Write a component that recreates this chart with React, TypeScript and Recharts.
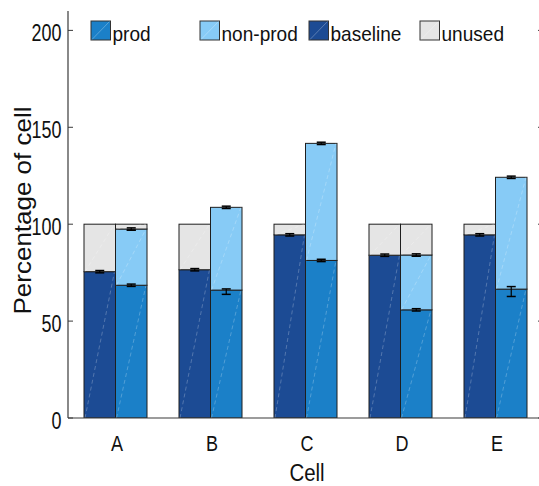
import React from 'react';
import { BarChart, Bar, XAxis, YAxis, Legend } from 'recharts';

const cells = ['A', 'B', 'C', 'D', 'E'];
const baseline = [75.5, 76.5, 94.5, 84, 94.5];
const unusedBase = [24.5, 23.5, 5.5, 16, 5.5];
const prod = [68.5, 66, 81.3, 55.8, 66.5];
const nonProd = [29, 42.7, 60.4, 28.3, 57.7];
const unusedProd = [2.5, 0, 0, 15.9, 0];
const baselineErr = [0.6, 0.6, 0.6, 0.6, 0.6];
const prodErrUp = [0.6, 0.6, 0.6, 0.6, 1.3];
const prodErrDown = [0.6, 2.2, 0.6, 0.6, 3.8];
const nonProdErr = [0.6, 0.6, 0.6, 0.6, 0.6];
const yTicks = [0, 50, 100, 150, 200];

const legendLabels = ['prod', 'non-prod', 'baseline', 'unused'];

const COLORS = {
  prod: '#1b80c8',
  nonProd: '#87cbf6',
  baseline: '#1c4b94',
  unused: '#e5e5e5',
};
const legendColors = [COLORS.prod, COLORS.nonProd, COLORS.baseline, COLORS.unused];

const FONT = '"Liberation Sans", Arial, Helvetica, sans-serif';
const AXIS = '#3a3a3a';

const data = cells.map((c, i) => ({
  cell: c,
  baseline: baseline[i],
  unusedBase: unusedBase[i],
  prod: prod[i],
  nonProd: nonProd[i],
  unusedProd: unusedProd[i],
  baselineErr: baselineErr[i],
  prodErrUp: prodErrUp[i],
  prodErrDown: prodErrDown[i],
  nonProdErr: nonProdErr[i],
}));

function cap(key: string, cx: number, yb: number, up: number, down: number) {
  const half = 4.5;
  const t = yb - Math.max(up, 1);
  const b = yb + Math.max(down, 1);
  return (
    <g key={key}>
      <line x1={cx} x2={cx} y1={t} y2={b} stroke="#000" strokeWidth={1.2} />
      <line x1={cx - half} x2={cx + half} y1={t} y2={t} stroke="#000" strokeWidth={1.5} />
      <line x1={cx - half} x2={cx + half} y1={b} y2={b} stroke="#000" strokeWidth={1.5} />
    </g>
  );
}

type ErrSpec = { up: string; down: string } | null;

function makeShape(fill: string, segKey: string, topErr: ErrSpec, bottomErr: ErrSpec) {
  return (p: any) => {
    const { x, y, width, height, payload } = p;
    if (!height || height <= 0 || !payload || !payload[segKey]) return <g />;
    const k = height / payload[segKey];
    const cx = x + width / 2;
    const caps: React.ReactNode[] = [];
    if (bottomErr) caps.push(cap('b', cx, y + height, payload[bottomErr.up] * k, payload[bottomErr.down] * k));
    if (topErr) caps.push(cap('t', cx, y, payload[topErr.up] * k, payload[topErr.down] * k));
    return (
      <g>
        <rect x={x} y={y} width={width} height={height} fill={fill} stroke="#1e1e1e" strokeWidth={1} />
        <line
          x1={x + 1}
          y1={y + height}
          x2={x + width - 1}
          y2={y}
          stroke="#ffffff"
          strokeOpacity={0.3}
          strokeWidth={0.8}
          strokeDasharray="4 3"
        />
        {caps}
      </g>
    );
  };
}

const YTick = (p: any) => (
  <g>
    <line x1={p.x} x2={p.x + 5} y1={p.y} y2={p.y} stroke={AXIS} strokeWidth={1} />
    <g transform={`translate(${p.x - 6.5},${p.y + 10.5}) scale(0.78,1)`}>
      <text textAnchor="end" fontSize={23} fill="#111" fontFamily={FONT}>
        {p.payload.value}
      </text>
    </g>
  </g>
);

const RightTick = (p: any) => (
  <line x1={p.x - 5} x2={p.x} y1={p.y} y2={p.y} stroke={AXIS} strokeWidth={1} />
);

const XTick = (p: any) => (
  <g transform={`translate(${p.x + 1.5},${p.y + 33}) scale(0.82,1)`}>
    <text textAnchor="middle" fontSize={22} fill="#111" fontFamily={FONT}>
      {p.payload.value}
    </text>
  </g>
);

const TopTick = (p: any) => (
  <line x1={p.x} x2={p.x} y1={p.y} y2={p.y + 5} stroke={AXIS} strokeWidth={1} />
);

const XLabel = (p: any) => {
  const vb = p.viewBox || { x: 68, y: 418, width: 475, height: 68 };
  return (
    <g transform={`translate(${vb.x + vb.width / 2 + 1.5},${vb.y + 62.5}) scale(0.87,1)`}>
      <text textAnchor="middle" fontSize={23.5} fill="#111" fontFamily={FONT}>
        Cell
      </text>
    </g>
  );
};

const YLabel = (p: any) => {
  const vb = p.viewBox || { x: 0, y: 11, width: 68, height: 407 };
  const cy = vb.y + vb.height / 2 - 4;
  const cx = vb.x + 31;
  return (
    <text
      x={cx}
      y={cy}
      transform={`rotate(-90,${cx},${cy})`}
      textAnchor="middle"
      fontSize={24}
      fill="#111"
      fontFamily={FONT}
      textLength={208}
      lengthAdjust="spacingAndGlyphs"
    >
      Percentage of cell
    </text>
  );
};

const legendSwatchX = [91, 200, 309, 420];

const LegendContent = () => (
  <svg width={548} height={50} style={{ display: 'block' }}>
    {legendLabels.map((lab, i) => (
      <g key={lab}>
        <rect x={legendSwatchX[i]} y={21} width={19.5} height={19} fill={legendColors[i]} stroke="#333" strokeWidth={1} />
        <line
          x1={legendSwatchX[i] + 1}
          y1={39.5}
          x2={legendSwatchX[i] + 18.5}
          y2={21.5}
          stroke="#fff"
          strokeOpacity={0.35}
          strokeWidth={0.8}
        />
        <g transform={`translate(${legendSwatchX[i] + 21.5},41) scale(0.93,1)`}>
          <text fontSize={20.5} fill="#111" fontFamily={FONT}>
            {lab}
          </text>
        </g>
      </g>
    ))}
  </svg>
);

export default function App() {
  return (
    <div style={{ position: 'absolute', left: 0, top: 0, width: 539, height: 486, background: '#fff', overflow: 'hidden' }}>
      <BarChart
        width={548}
        height={486}
        data={data}
        margin={{ top: 11, right: 0, bottom: 0, left: 0 }}
        barGap={0}
        barSize={31.5}
      >
        <XAxis
          dataKey="cell"
          height={68}
          tickSize={0}
          tickMargin={0}
          tickLine={false}
          axisLine={{ stroke: AXIS, strokeWidth: 1.2 }}
          tick={<XTick />}
          interval={0}
          label={<XLabel />}
        />
        <XAxis
          xAxisId="top"
          orientation="top"
          dataKey="cell"
          height={0}
          tickSize={0}
          tickMargin={0}
          tickLine={false}
          axisLine={{ stroke: AXIS, strokeWidth: 1.2 }}
          tick={<TopTick />}
          interval={0}
        />
        <YAxis
          type="number"
          domain={[0, 210]}
          ticks={yTicks}
          width={68}
          tickSize={0}
          tickMargin={0}
          tickLine={false}
          axisLine={{ stroke: AXIS, strokeWidth: 1.2 }}
          tick={<YTick />}
          interval={0}
          allowDataOverflow
          label={<YLabel />}
        />
        <YAxis
          yAxisId="right"
          orientation="right"
          type="number"
          domain={[0, 210]}
          ticks={yTicks}
          width={5}
          tickSize={0}
          tickMargin={0}
          tickLine={false}
          axisLine={{ stroke: AXIS, strokeWidth: 1.2 }}
          tick={<RightTick />}
          interval={0}
          allowDataOverflow
        />
        <Legend
          layout="horizontal"
          verticalAlign="middle"
          align="center"
          content={<LegendContent />}
          wrapperStyle={{ position: 'absolute', left: 0, top: 0, width: 548, height: 50 }}
        />
        <Bar dataKey="baseline" name="baseline" stackId="base" fill={COLORS.baseline} isAnimationActive={false}
          shape={makeShape(COLORS.baseline, 'baseline', null, null)} />
        <Bar dataKey="unusedBase" name="unused" stackId="base" fill={COLORS.unused} isAnimationActive={false}
          shape={makeShape(COLORS.unused, 'unusedBase', null, { up: 'baselineErr', down: 'baselineErr' })} />
        <Bar dataKey="prod" name="prod" stackId="run" fill={COLORS.prod} isAnimationActive={false}
          shape={makeShape(COLORS.prod, 'prod', null, null)} />
        <Bar dataKey="nonProd" name="non-prod" stackId="run" fill={COLORS.nonProd} isAnimationActive={false}
          shape={makeShape(COLORS.nonProd, 'nonProd', { up: 'nonProdErr', down: 'nonProdErr' }, { up: 'prodErrUp', down: 'prodErrDown' })} />
        <Bar dataKey="unusedProd" name="unused" stackId="run" fill={COLORS.unused} isAnimationActive={false}
          shape={makeShape(COLORS.unused, 'unusedProd', null, { up: 'nonProdErr', down: 'nonProdErr' })} />
      </BarChart>
    </div>
  );
}
